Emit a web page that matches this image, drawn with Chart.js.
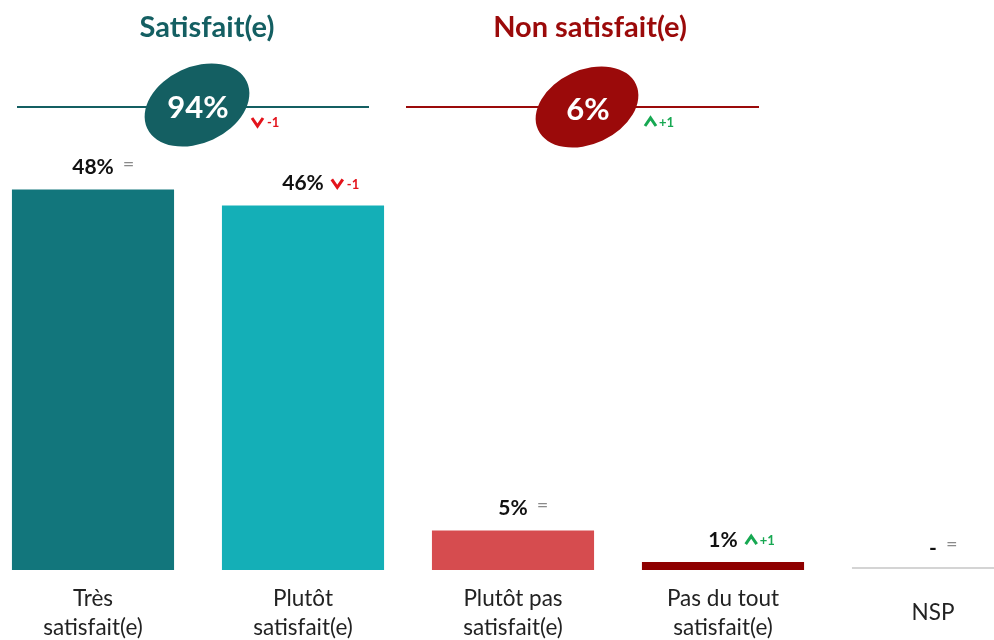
<!DOCTYPE html>
<html>
<head>
<meta charset="utf-8">
<script src="https://cdn.jsdelivr.net/npm/chart.js@4.4.1/dist/chart.umd.min.js"></script>
<style>
  html, body { margin: 0; padding: 0; background: #fff; overflow: hidden; }
  #wrap { position: absolute; left: -12px; top: 0; width: 1050px; height: 640px; }
</style>
</head>
<body>
<div id="wrap"><canvas id="satisfaction-chart" width="1050" height="640"></canvas></div>
<script>
const CATEGORIES = [["Très", "satisfait(e)"], ["Plutôt", "satisfait(e)"], ["Plutôt pas", "satisfait(e)"], ["Pas du tout", "satisfait(e)"], "NSP"];
const VALUES = [48, 46, 5, 1, 0];
const VALUE_LABELS = ["48%", "46%", "5%", "1%", "-"];
const CHANGES = ["=", "-1", "=", "+1", "="];
const BAR_COLORS = ["#12767c", "#14afb7", "#d64c4f", "#8e0000", "#d4d4d4"];

const GROUP_TITLES = ["Satisfait(e)", "Non satisfait(e)"];
const GROUP_TOTALS = ["94%", "6%"];
const GROUP_CHANGES = ["-1", "+1"];
const GROUP_COLORS = ["#145f62", "#9b0a0a"];

const FONT = "Lato, 'Open Sans', sans-serif";
const RED = "#e3131b";
const GREEN = "#17a852";
const GRAY = "#8a8a8a";

// petite flèche en chevron (haut ou bas)
function drawChevron(ctx, x, y, up, color){
  ctx.save();
  ctx.strokeStyle = color;
  ctx.lineWidth = 3;
  ctx.lineJoin = "miter";
  ctx.beginPath();
  if(up){
    ctx.moveTo(x, y + 4); ctx.lineTo(x + 5.5, y - 4); ctx.lineTo(x + 11, y + 4);
  } else {
    ctx.moveTo(x, y - 4); ctx.lineTo(x + 5.5, y + 4); ctx.lineTo(x + 11, y - 4);
  }
  ctx.stroke();
  ctx.restore();
}

// "=" gris, ou flèche + nombre en couleur
function drawChange(ctx, x, y, change){
  ctx.save();
  ctx.textBaseline = "middle";
  ctx.textAlign = "left";
  if(change == "="){
    ctx.fillStyle = GRAY;
    ctx.font = "20px " + FONT;
    ctx.fillText("=", x + 1, y - 3);
  } else {
    const up = change.startsWith("+");
    const color = up ? GREEN : RED;
    drawChevron(ctx, x, y, up, color);
    ctx.fillStyle = color;
    ctx.font = "bold 13px " + FONT;
    ctx.fillText(change, x + (up ? 14 : 15), y + 1);
  }
  ctx.restore();
}

const barLabelsPlugin = {
  id: "barLabels",
  afterDatasetsDraw: function(chart){
    const ctx = chart.ctx;
    const meta = chart.getDatasetMeta(0);
    meta.data.forEach((bar, i) => {
      // NSP : pas de valeur, juste un trait gris au niveau de la base
      if(VALUES[i] == 0){
        ctx.save();
        ctx.strokeStyle = BAR_COLORS[i];
        ctx.lineWidth = 2;
        ctx.beginPath();
        ctx.moveTo(bar.x - bar.width / 2, bar.base - 2);
        ctx.lineTo(bar.x + bar.width / 2, bar.base - 2);
        ctx.stroke();
        ctx.restore();
      }
      const y = bar.y - 22;
      ctx.save();
      ctx.fillStyle = "#111";
      ctx.font = "bold 21px " + FONT;
      ctx.textAlign = "center";
      ctx.textBaseline = "middle";
      ctx.fillText(VALUE_LABELS[i], bar.x, y);
      const w = ctx.measureText(VALUE_LABELS[i]).width;
      ctx.restore();
      drawChange(ctx, bar.x + w / 2 + 8, y, CHANGES[i]);
    });
  }
};

// en-têtes : titre, trait, ellipse avec le total
const headerPlugin = {
  id: "groupHeaders",
  afterDraw: function(chart){
    const ctx = chart.ctx;
    const off = 12; // décalage du canvas dans la page
    const headers = [
      { titleX: 207, lineFrom: 17, lineTo: 369, cx: 197, cy: 105, rx: 55, ry: 38, changeX: 252 },
      { titleX: 590, lineFrom: 406, lineTo: 759, cx: 587, cy: 107, rx: 54, ry: 37, changeX: 645 }
    ];
    headers.forEach((h, i) => {
      const color = GROUP_COLORS[i];
      ctx.save();
      ctx.translate(off, 0);
      ctx.fillStyle = color;
      ctx.font = "bold 29px " + FONT;
      ctx.textAlign = "center";
      ctx.textBaseline = "middle";
      ctx.fillText(GROUP_TITLES[i], h.titleX, 28);

      ctx.strokeStyle = color;
      ctx.lineWidth = 2;
      ctx.beginPath();
      ctx.moveTo(h.lineFrom, 107);
      ctx.lineTo(h.lineTo, 107);
      ctx.stroke();

      ctx.beginPath();
      ctx.ellipse(h.cx, h.cy, h.rx, h.ry, -25 * Math.PI / 180, 0, Math.PI * 2);
      ctx.fill();

      ctx.fillStyle = "#fff";
      ctx.font = "bold 31px " + FONT;
      ctx.fillText(GROUP_TOTALS[i], h.cx + 1, h.cy + 3);
      ctx.restore();

      drawChange(ctx, h.changeX + off, 122, GROUP_CHANGES[i]);
    });
  }
};

const ctx = document.getElementById("satisfaction-chart");
new Chart(ctx, {
  type: "bar",
  data: {
    labels: CATEGORIES,
    datasets: [{
      data: VALUES,
      backgroundColor: BAR_COLORS,
      borderWidth: 0,
      barPercentage: 0.772,
      categoryPercentage: 1
    }]
  },
  options: {
    responsive: false,
    animation: false,
    layout: { padding: { top: 150, left: 0, right: 0, bottom: 0 } },
    plugins: { legend: { display: false }, tooltip: { enabled: false } },
    scales: {
      x: {
        grid: { display: false, drawTicks: false },
        border: { display: false },
        ticks: {
          color: "#222",
          font: { family: FONT, size: 22.5, lineHeight: 1.28 },
          padding: 28.5,
          crossAlign: "center", // NSP centré verticalement sur les deux lignes
          maxRotation: 0,
          autoSkip: false
        },
        afterFit: function(scale){
          scale.height = 70; // la base des barres tombe à y = 570
        }
      },
      y: {
        display: false,
        min: 0,
        max: 53
      }
    }
  },
  plugins: [barLabelsPlugin, headerPlugin]
});
</script>
</body>
</html>
